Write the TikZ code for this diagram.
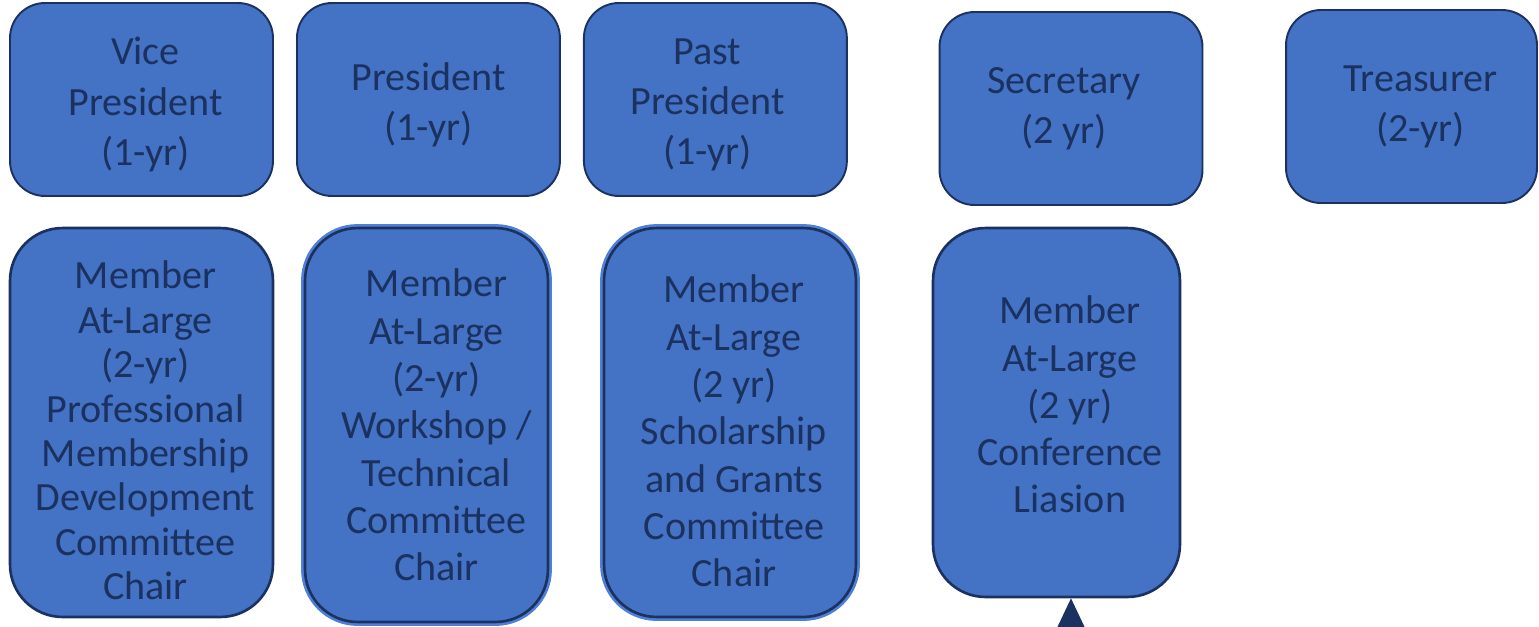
\documentclass[tikz,border=0pt]{standalone}
\usepackage{fontspec}
\setmainfont{Carlito}
\usetikzlibrary{arrows.meta}

\definecolor{boxblue}{HTML}{4472C4}
\definecolor{navy}{HTML}{1B3260}
\definecolor{glowblue}{HTML}{4F7FD6}

\tikzstyle{officebox} = [rectangle, rounded corners = 0.7cm, draw = navy, line width = 1.1pt,
  fill = boxblue, minimum width = 5.26cm, minimum height = 3.86cm]
\tikzstyle{memberbox} = [rectangle, rounded corners = 1.05cm, draw = navy, line width = 1.5pt,
  fill = boxblue]
\tikzstyle{glow} = [preaction = {draw = glowblue, line width = 4.5pt}]
\tikzstyle{boxtext} = [text = navy, align = center, font = \fontsize{22.8}{28.5}\selectfont]
\tikzstyle{tighttext} = [boxtext, font = \fontsize{22.8}{25.3}\selectfont]
\tikzstyle{membertext} = [boxtext, font = \fontsize{22.8}{26.9}\selectfont]

\begin{document}
\begin{tikzpicture}[x = 0.02cm, y = -0.02cm, node distance = 5.74cm]
			\useasboundingbox (0,0) rectangle (1539,626);
			% officers
			\node[officebox, label = {[boxtext, xshift = 0.08cm, yshift = -0.1cm]center:{Vice\\President\\(1-yr)}}] (VP) at (141.5,99.5) {};
			\node[officebox, right of = VP, label = {[boxtext, yshift = -0.11cm]center:{President\\(1-yr)}}] (P) {};
			\node[officebox, right of = P, label = {[boxtext, xshift = -0.16cm, yshift = -0.1cm]center:{Past\\President\\(1-yr)}}] (PP) {};
			\node[officebox, label = {[boxtext, xshift = -0.14cm]center:{Secretary\\(2 yr)}}] (S) at (1071,108.5) {};
			\node[officebox, minimum width = 5.02cm, label = {[boxtext, xshift = 0.18cm]center:{Treasurer\\(2-yr)}}] (T) at (1411.5,106.5) {};
			% members at large
			\node[memberbox, minimum width = 5.26cm, minimum height = 7.78cm,
			  label = {[tighttext, xshift = 0.08cm, yshift = -0.16cm]center:{Member\\At-Large\\(2-yr)\\Professional\\Membership\\Development\\Committee\\Chair}}] (M1) at (141.5,422.5) {};
			\node[memberbox, glow, minimum width = 4.86cm, minimum height = 7.88cm,
			  label = {[membertext, xshift = 0.2cm]center:{Member\\At-Large\\ (2-yr)\\Workshop /\\Technical\\Committee\\Chair}}] (M2) at (426.5,425) {};
			\node[memberbox, glow, minimum width = 5.04cm, minimum height = 7.78cm,
			  label = {[membertext, xshift = 0.08cm, yshift = -0.17cm]center:{Member\\At-Large\\(2 yr)\\Scholarship\\and Grants\\Committee\\Chair}}] (M3) at (730,422.5) {};
			\node[memberbox, minimum width = 4.94cm, minimum height = 7.38cm,
			  label = {[membertext, xshift = 0.27cm, yshift = 0.16cm]center:{Member\\At-Large\\(2 yr)\\Conference\\Liasion}}] (M4) at (1056.5,412.5) {};
			% arrow into the conference liaison
			\coordinate (below) at (1071,680);
			\draw[navy, line width = 1pt, -{Triangle[width = 0.54cm, length = 0.58cm]}] (below) -- (M4.south -| below);
		\end{tikzpicture}
\end{document}
